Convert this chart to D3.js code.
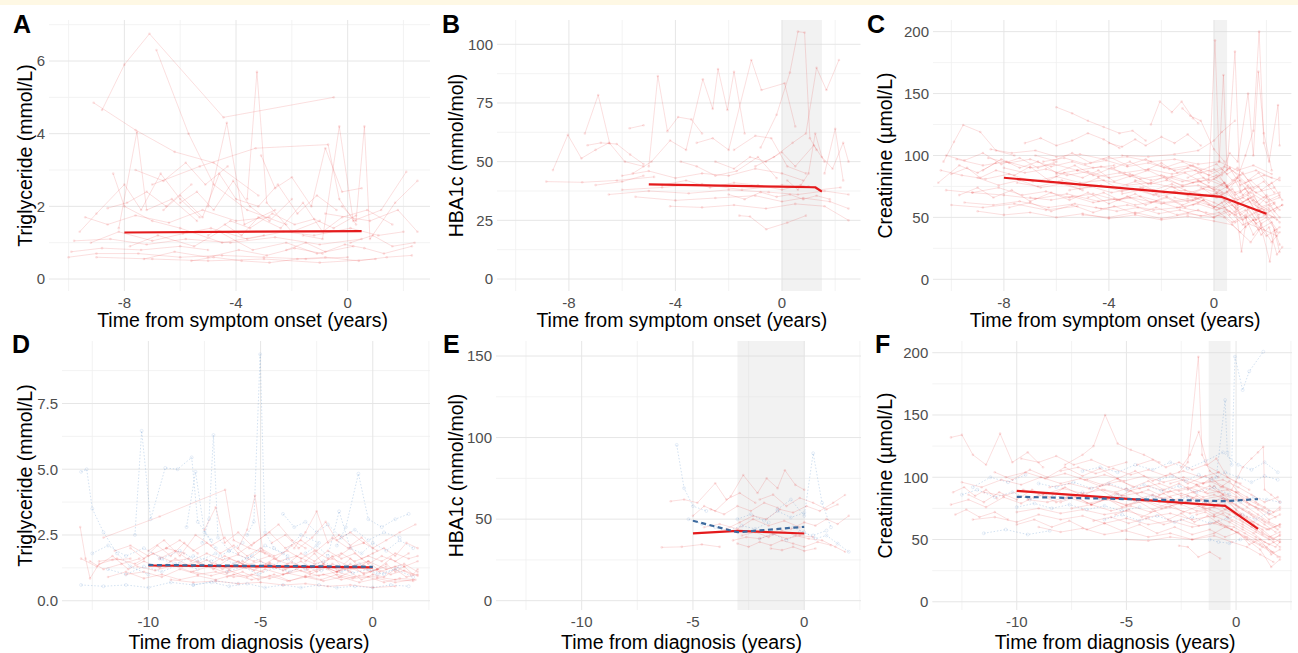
<!DOCTYPE html>
<html><head><meta charset="utf-8">
<script src="https://cdn.jsdelivr.net/npm/d3@7"></script>
<style>body{margin:0;background:#fff;} svg{display:block;font-family:"Liberation Sans",Arial,sans-serif;}</style>
</head><body><svg id="c" width="1298" height="653"></svg>
<script>
// ---------------- text ----------------
const xTitleTop = "Time from symptom onset (years)";
const xTitleBottom = "Time from diagnosis (years)";
const yTitleTG = "Triglyceride (mmol/L)";
const yTitleHB = "HBA1c (mmol/mol)";
const yTitleCR = "Creatinine (µmol/L)";

// ---------------- ticks ----------------
const xTicksTop = [-8, -4, 0];
const xMinorTop = [-10, -6, -2, 2];
const xTicksBottom = [-10, -5, 0];
const xMinorBottom = [-12.5, -7.5, -2.5, 2.5];
const yTicksA = [0, 2, 4, 6];         const yMinorA = [1, 3, 5, 7];
const yTicksB = [0, 25, 50, 75, 100]; const yMinorB = [12.5, 37.5, 62.5, 87.5];
const yTicksC = [0, 50, 100, 150, 200]; const yMinorC = [25, 75, 125, 175];
const yTicksD = [0, 2.5, 5, 7.5];     const yMinorD = [1.25, 3.75, 6.25, 8.75];
const yTicksE = [0, 50, 100, 150];    const yMinorE = [25, 75, 125];
const yTicksF = [0, 50, 100, 150, 200]; const yMinorF = [25, 75, 125, 175];

// ---------------- shaded windows (years) ----------------
const bandB = [0, 1.5];
const bandC = [0, 0.5];
const bandE = [-3, 0];
const bandF = [-1.25, -0.25];

// ---------------- group mean trajectories [t, value] ----------------
const meanA = [[-8, 1.28], [0.5, 1.32]];
const meanB = [[-5, 40.3], [1.25, 39.1], [1.5, 37.2]];
const meanC = [[-8, 82], [0.3, 66.5], [2, 53]];
const meanDcase = [[-10, 1.34], [0, 1.27]];
const meanDctrl = [[-10, 1.36], [0, 1.29]];
const meanEcase = [[-5, 41.3], [-3, 42.8], [0, 41.2]];
const meanEctrl = [[-5, 49], [-3, 42], [0, 45.3]];
const meanFcase = [[-10, 89], [-0.5, 77], [1, 58.5]];
const meanFctrl = [[-10, 84.3], [-0.5, 80.8], [1, 82.5]];

// ---------------- individual trajectories: flat [t1,v1,t2,v2,...] ----------------
const trajA = [
 [-8.8,4.65,-8.0,5.9,-7.1,6.75,-4.45,4.45,-0.5,5.0],
 [-6.85,6.3,-5.7,4.0,-4.8,2.6,-3.6,1.9,-2.2,1.5],
 [-9.1,4.85,-7.6,4.1,-6.2,3.5,-4.8,3.2,-3.2,2.3],
 [-3.6,2.2,-3.25,5.7,-2.9,2.1,-2.0,1.3,-1.0,1.6],
 [-5.0,2.0,-4.33,4.3,-3.7,1.5,-2.6,1.9],
 [-8.2,1.4,-7.55,4.05,-7.2,1.9,-6.3,2.2,-5.4,1.6],
 [-7.0,2.6,-5.3,3.1,-3.3,3.6,-0.7,3.7,-0.3,2.2,0.3,1.5],
 [-1.6,1.2,-0.9,1.1,-0.3,4.2,0.2,1.6,1.2,1.9,2.1,2.95],
 [-0.2,2.0,0.3,1.6,0.6,4.2,0.8,1.1,1.7,2.1,2.5,2.7],
 [-0.8,1.8,0.8,1.6,1.8,1.9,2.5,1.3],
 [-8.4,2.9,-8.0,2.0,-7.0,1.6,-6.0,1.4,-4.5,1.0,-3.0,1.2],
 [-9.6,1.3,-9.0,1.8,-8.0,2.6,-7.4,1.9,-6.7,2.9,-6.0,2.2,-5.3,1.7],
 [-10.0,0.6,-9.0,0.7,-7.5,0.7,-6.0,0.6,-4.5,0.65,-3.0,0.6,-1.5,0.55,0.0,0.6],
 [-9.8,1.05,-8.5,1.1,-7.2,0.95,-5.8,1.1,-4.2,1.0,-2.6,1.15,-1.0,0.95,0.5,1.1],
 [-9.4,1.7,-8.6,1.5,-7.6,1.75,-6.4,1.55,-5.2,1.9,-4.0,1.6,-2.8,1.7],
 [-7.8,0.9,-6.8,1.2,-5.5,0.9,-4.6,1.3,-3.4,0.8,-2.2,1.0,-1.1,0.7,0.2,0.9],
 [-6.6,1.9,-6.0,2.3,-5.2,1.7,-4.6,2.9,-4.0,2.2,-3.2,2.0,-2.5,2.6,-1.8,1.8,-1.1,2.3,-0.4,1.9],
 [-5.6,0.5,-4.8,0.6,-3.8,0.5,-2.8,0.45,-1.8,0.55,-0.8,0.6,0.4,0.5,1.4,0.6,2.3,0.65],
 [-9.9,0.75,-8.8,0.85,-7.4,0.8,-6.0,0.9,-5.0,0.8],
 [-4.4,1.5,-3.8,1.2,-3.2,1.7,-2.4,1.4,-1.6,2.1,-0.9,1.3,-0.2,1.7,0.7,1.9,1.6,1.5],
 [-3.1,3.4,-2.6,2.5,-2.0,2.8,-1.3,2.0,-0.8,3.6,-0.2,2.4,0.5,2.5],
 [-9.2,1.0,-8.2,1.3,-7.0,1.05,-5.9,1.25,-4.9,1.4,-3.6,1.1,-2.3,1.3,-1.2,1.2,0.1,1.4,1.1,1.2,2.0,1.3],
 [-7.3,0.55,-6.2,0.75,-5.0,0.6,-3.9,0.8,-2.9,0.65,-1.9,0.85,-0.9,0.7],
 [-6.0,2.1,-5.4,2.4,-4.8,1.9,-4.1,2.7,-3.5,2.0,-2.8,1.6,-2.0,2.2],
 [0.1,1.0,0.9,1.2,1.6,0.9,2.4,1.0],
 [-8.6,1.95,-7.9,2.1,-7.2,2.4,-6.5,2.0,-5.6,2.6],
 [-2.2,0.8,-1.5,1.0,-0.8,0.75,-0.1,0.95,0.6,0.85,1.3,0.7,2.3,0.9],
 [-5.0,1.2,-4.2,1.6,-3.5,1.4,-2.7,1.8,-1.9,1.5,-1.2,1.65,-0.5,1.4,0.3,1.75],
 [-9.0,0.6,-7.0,0.55,-5.0,0.5,-3.0,0.55,-1.0,0.45,1.0,0.55],
 [-7.6,3.0,-6.6,2.7,-5.8,3.2,-5.1,2.6,-4.3,3.1]
];

const trajB = [
 [-8.85,41.5,-7.5,41.2,-6.2,42,-4.8,43.5],
 [-8.6,46.4,-8.04,61.4,-7.53,51.4,-7.0,55,-6.5,58],
 [-7.4,62,-6.9,78.4,-6.47,57.8,-5.9,50,-5.2,48],
 [-7.3,57,-6.8,58,-6.2,57.5,-5.7,53,-5.2,49],
 [-5.72,64.2,-5.2,65.5],
 [-5.0,48,-4.66,86.5,-4.3,63,-3.9,69,-3.4,68,-3.0,62],
 [-5.6,45,-4.9,50,-4.2,59,-3.6,55,-2.97,85.1,-2.6,72.5,-2.4,89.5,-2.05,72,-1.8,88.3,-1.4,62],
 [-3.2,58,-2.6,60,-2.0,55,-1.15,93.3,-0.77,80.5,0.1,83.4,0.5,65],
 [-0.8,56,-0.2,70,0.3,88,0.6,105.4,0.85,105,1.05,60,1.3,55],
 [-1.0,48,-0.3,52,0.4,58,0.9,62,1.3,90,1.67,80.5,2.14,93.3],
 [-6.5,36,-5.0,37.5,-3.5,36.5,-2.0,38,-0.5,37,0.6,36,1.6,37.5,2.5,36],
 [-5.5,35,-4.0,33.5,-2.5,34.5,-1.0,35.5,0,33,0.8,34.5,1.8,33,2.5,30],
 [-4.2,31,-3.0,30.5,-1.8,31.5,-0.6,30,0.5,32,1.6,31,2.5,25],
 [-1.6,27,-1.2,26.6,-0.59,21.2,0.2,24,0.9,27],
 [-6.0,44,-5.0,46,-4.0,43,-3.0,45,-2.0,44,-1.0,47,0,45,0.8,42],
 [-4.5,40,-3.6,42,-2.7,39,-1.8,41,-0.9,40,0,38,0.7,40,1.4,38,2.2,39],
 [-2.5,50,-1.8,47,-1.2,52,-0.6,50,0.0,54,0.5,48,1.2,57,1.6,50],
 [0.2,42,0.6,38,1.0,45,1.25,62,1.5,52,1.9,47,2.3,58,2.5,50],
 [-3.8,50,-3.2,48,-2.5,44,-1.7,46,-0.9,52,-0.2,43],
 [-6.0,38,-4.5,39,-3.0,40.5,-1.5,38,0,40,1,39.5],
 [-2.0,36,-1.4,34,-0.8,37,-0.2,35,0.3,36,0.8,34,1.3,35.5,1.8,34],
 [-7.0,40,-6.0,41.5,-5.2,44],
 [1.6,45,2.0,64,2.3,42],
 [-1.8,55,-1.0,61,-0.4,60,0.2,48,0.9,45]
];

const trajC = [
 [-10.3,95,-9.9,111,-9.55,124.6,-8.9,119,-8.3,104,-7.6,100],
 [-6.0,139,-5.4,134,-4.8,128,-4.2,123,-3.6,118,-3.1,120,-2.6,112],
 [-2.4,125,-2.06,143.5,-1.6,135,-1.23,143.5,-0.8,130,-0.6,126],
 [-3.5,100,-2.5,99,-1.5,101,-0.6,104,0.0,112,0.3,119,0.8,128],
 [-10.4,88,-9.6,84,-8.7,81,-7.8,85,-6.9,79,-6.0,83,-5.1,78,-4.2,80,-3.3,76,-2.4,78,-1.5,74,-0.6,76,0.2,72,0.8,65,1.4,70,2.0,62,2.5,66],
 [-9.8,97,-8.8,92,-7.9,95,-7.0,90,-6.1,93,-5.2,88,-4.3,91,-3.4,86,-2.5,89,-1.6,85,-0.7,88,0.1,82,0.6,90,1.2,78,1.9,84,2.5,80],
 [-10.2,72,-9.2,70,-8.2,74,-7.3,68,-6.4,71,-5.5,66,-4.6,69,-3.7,64,-2.8,67,-1.9,62,-1.0,65,-0.2,60,0.5,56,1.1,48,1.7,55,2.3,50],
 [-9.5,62,-8.4,60,-7.4,63,-6.3,58,-5.3,61,-4.3,57,-3.3,60,-2.3,56,-1.3,58,-0.3,54,0.4,50,1.0,38,1.3,45,1.9,40,2.4,35],
 [-9.0,55,-8.0,52,-7.0,54,-6.0,50,-5.0,53,-4.0,49,-3.0,52,-2.0,48,-1.0,51,0.0,47,0.7,44,1.4,30,1.8,42],
 [-8.5,105,-7.7,102,-6.8,104,-6.0,99,-5.1,101,-4.2,97,-3.3,99,-2.4,95,-1.5,97,-0.6,93,0.2,95,0.9,88,1.5,92,2.2,85],
 [-8.0,90,-7.2,86,-6.4,89,-5.6,84,-4.8,87,-4.0,82,-3.2,85,-2.4,80,-1.6,83,-0.8,78,0.0,81,0.5,75,1.0,80,1.6,70,2.3,74],
 [-7.5,78,-6.7,75,-5.9,79,-5.1,73,-4.3,76,-3.5,71,-2.7,74,-1.9,70,-1.1,72,-0.3,68,0.3,70,0.9,58,1.5,64,2.1,55,2.6,60],
 [-7.0,66,-6.2,64,-5.4,67,-4.6,62,-3.8,65,-3.0,60,-2.2,63,-1.4,58,-0.6,61,0.1,56,0.7,60,1.2,50,1.8,57,2.4,48],
 [-6.5,95,-5.7,98,-4.9,93,-4.1,96,-3.3,91,-2.5,94,-1.7,89,-0.9,92,-0.1,87,0.4,91,1.0,84,1.6,88,2.2,82],
 [-6.0,85,-5.2,88,-4.4,83,-3.6,86,-2.8,81,-2.0,84,-1.2,79,-0.4,82,0.3,76,0.8,70,1.3,74,1.9,66,2.5,70],
 [-5.5,72,-4.7,75,-3.9,70,-3.1,73,-2.3,68,-1.5,71,-0.7,66,0.1,69,0.6,62,1.1,66,1.7,58,2.3,62],
 [-10.0,60,-8.8,58,-7.6,61,-6.4,56,-5.2,59],
 [-4.5,58,-3.7,55,-2.9,58,-2.1,53,-1.3,56,-0.5,51,0.2,54,0.7,46,1.2,52,1.7,40,2.2,46,2.5,28],
 [-3.0,80,-2.4,77,-1.8,80,-1.2,76,-0.6,79,0.0,74,0.4,78,0.8,68,1.2,73,1.6,62,2.0,68,2.5,56],
 [-0.2,80,0.04,193,0.2,95,0.36,165,0.5,88,0.8,184,1.0,70,1.3,76],
 [0.5,70,0.9,82,1.2,100,1.5,120,1.72,200,1.9,110,2.1,95,2.44,140.8,2.5,108],
 [0.8,62,1.05,22.3,1.3,58,1.6,48],
 [1.3,65,1.7,50,2.13,14.2,2.3,40,2.5,22],
 [-1.2,138,-0.9,132,-0.5,128,0.0,105,0.4,95],
 [0.3,86,0.6,102,0.9,95,1.3,150,1.5,100,1.69,167.7,1.9,118,2.2,88],
 [-9.0,82,-8.2,76,-7.4,80,-6.6,74,-5.8,77,-5.0,72],
 [-10.5,78,-9.7,92,-9.0,86,-8.3,94],
 [-4.0,110,-3.5,107,-3.0,113,-2.6,108,-2.0,115,-1.5,110,-1.0,117,-0.5,108],
 [-7.2,110,-6.6,114,-6.0,108,-5.4,112,-4.8,118,-4.2,113,-3.6,106],
 [-2.0,92,-1.5,88,-1.0,90,-0.5,86,0.0,89,0.3,84,0.6,90,1.0,76,1.4,80,1.8,72,2.2,78,2.6,64],
 [-1.5,66,-1.0,63,-0.5,66,0.0,62,0.4,58,0.8,52,1.2,56,1.6,45,2.0,50,2.4,38],
 [-9.2,70,-8.0,68,-6.8,65,-5.6,69,-4.4,63,-3.2,66,-2.0,61,-0.8,64],
 [-8.6,98,-7.8,94,-7.0,97,-6.2,91,-5.4,95,-4.6,90,-3.8,92],
 [-5.0,52,-4.0,50,-3.0,54,-2.0,49,-1.0,53,0.0,50,0.6,55,1.1,44,1.5,48,2.0,35,2.5,42],
 [-0.5,74,0.1,70,0.5,75,0.9,64,1.3,68,1.7,56,2.1,60,2.5,50],
 [-3.5,69,-2.8,72,-2.1,67,-1.4,70,-0.7,65,0.0,68,0.4,64,0.8,58],
 [-10.0,85,-9.4,90,-8.9,82,-8.3,88,-7.6,84,-7.0,91,-6.3,80,-5.7,86,-5.0,82,-4.4,88,-3.8,79,-3.1,84,-2.5,77,-1.9,83,-1.2,75,-0.6,80,0.0,72,0.4,78,0.9,60,1.4,66,1.9,52,2.4,58],
 [-9.7,68,-9.0,74,-8.4,66,-7.7,72,-7.0,63,-6.2,70,-5.5,64,-4.8,70,-4.0,61,-3.3,67,-2.6,60,-1.8,66,-1.1,58,-0.4,64,0.2,57,0.6,63,1.0,52,1.4,58,1.8,45,2.2,50],
 [-8.8,88,-8.1,97,-7.4,90,-6.7,95,-6.0,86,-5.3,92,-4.6,84,-3.9,90,-3.2,83,-2.5,88,-1.8,81,-1.1,86,-0.5,79,0.1,84,0.5,76,0.9,82,1.3,70,1.7,75,2.1,64,2.5,68],
 [-7.8,58,-7.0,62,-6.2,55,-5.4,60,-4.6,54,-3.8,59,-3.0,53,-2.2,58,-1.4,52,-0.6,56,0.0,50,0.4,55,0.8,46,1.2,50,1.5,36,1.8,44,2.2,30,2.5,38],
 [-6.8,100,-6.1,96,-5.4,102,-4.7,94,-4.0,99,-3.3,92,-2.6,97,-1.9,90,-1.2,95,-0.5,88,0.1,93,0.5,85,0.9,90,1.3,80,1.7,86,2.1,76,2.5,82],
 [-5.8,80,-5.1,76,-4.4,82,-3.7,74,-3.0,79,-2.3,72,-1.6,77,-0.9,70,-0.2,75,0.3,68,0.7,73,1.1,62,1.5,67,1.9,56,2.3,61],
 [-4.8,66,-4.2,70,-3.6,64,-3.0,69,-2.4,62,-1.8,67,-1.2,60,-0.6,65,0.0,58,0.4,63,0.8,54,1.2,59,1.6,48,2.0,52,2.4,40],
 [-1.0,82,-0.6,86,-0.2,78,0.2,84,0.5,74,0.8,80,1.1,68,1.4,74,1.7,60,2.0,66,2.3,55,2.6,60],
 [-0.8,60,-0.4,64,0.0,58,0.3,62,0.6,52,0.9,57,1.2,42,1.5,48,1.8,36,2.1,42,2.4,20,2.6,26],
 [-10.2,100,-9.5,96,-8.8,102,-8.1,93,-7.4,98,-6.7,90,-6.0,95],
 [-3.8,90,-3.2,95,-2.6,88,-2.0,94,-1.4,86,-0.8,92,-0.2,84,0.3,89,0.7,80,1.1,86,1.5,74,1.9,79,2.3,70],
 [-2.8,74,-2.2,69,-1.6,75,-1.0,68,-0.4,73,0.1,66,0.5,71,0.9,60,1.3,65,1.7,52,2.1,57,2.5,46]
];

const trajDcase = [
 [-12.0,2.4,-9.5,3.2,-6.58,4.22,-6.2,2.3,-5.5,2.0,-4.8,1.8],
 [-6.0,2.0,-5.6,2.7,-5.25,4.0,-4.9,1.9,-4.3,1.6,-3.6,2.1],
 [-13.04,2.8,-12.8,1.6,-12.6,0.85,-12.2,1.4,-11.6,1.55,-10.8,1.6],
 [-12.2,1.5,-11.4,1.6,-10.6,1.4,-9.8,1.8,-9.0,1.5,-8.2,1.6,-7.4,1.3,-6.6,1.7,-5.8,1.4,-5.0,1.9,-4.2,1.5,-3.4,1.7,-2.6,1.4,-1.8,1.6,-1.0,1.3,-0.2,1.5,0.6,1.2,1.4,1.4,2.0,1.1],
 [-11.0,1.0,-10.2,1.1,-9.4,0.9,-8.6,1.2,-7.8,1.0,-7.0,1.1,-6.2,0.9,-5.4,1.0,-4.6,0.85,-3.8,1.05,-3.0,0.9,-2.2,1.0,-1.4,0.8,-0.6,0.95,0.2,0.9,1.0,0.8,1.8,0.75],
 [-10.0,1.9,-9.3,2.3,-8.6,1.7,-7.9,2.5,-7.2,2.1,-6.6,2.4,-6.0,1.8,-5.3,2.2,-4.6,2.6,-3.9,2.0,-3.2,2.3,-2.5,1.9,-1.8,2.4,-1.1,2.0,-0.4,2.2],
 [-9.0,0.8,-8.0,0.7,-7.0,0.75,-6.0,0.65,-5.0,0.7,-4.0,0.6,-3.0,0.65,-2.0,0.55,-1.0,0.6,0.0,0.5,1.0,0.55],
 [-8.5,1.3,-7.8,1.5,-7.1,1.2,-6.4,1.6,-5.7,1.35,-5.0,1.5,-4.3,1.25,-3.6,1.45,-2.9,1.2,-2.2,1.4,-1.5,1.15,-0.8,1.35,-0.1,1.1,0.6,1.3],
 [-7.5,2.7,-7.0,3.55,-6.6,2.2,-6.0,2.6,-5.4,2.1,-4.8,2.5,-4.2,2.9,-3.6,2.3,-3.0,2.0],
 [-4.0,1.0,-3.4,1.2,-2.8,1.0,-2.2,1.3,-1.6,1.1,-1.0,1.4,-0.4,1.0,0.2,1.2,0.8,1.6,1.4,1.3,2.0,1.5],
 [-3.5,2.0,-3.0,2.6,-2.5,3.4,-2.0,2.2,-1.5,2.5,-1.0,2.1,-0.5,2.4,0.0,2.0,0.6,2.3,1.2,2.6,1.9,2.9],
 [-10.5,1.3,-9.7,1.15,-8.9,1.35,-8.1,1.1,-7.3,1.3,-6.5,1.05,-5.7,1.25,-4.9,1.1],
 [-6.5,0.9,-5.8,1.1,-5.1,0.8,-4.4,1.0,-3.7,0.75,-3.0,0.95,-2.3,0.8,-1.6,1.0,-0.9,0.85,-0.2,0.9,0.5,0.7,1.2,0.85,1.9,0.8],
 [-9.5,1.6,-8.8,1.9,-8.1,1.5,-7.4,1.8,-6.7,1.55,-6.0,1.75,-5.3,1.5,-4.6,1.7],
 [-5.0,1.3,-4.4,1.6,-3.8,1.4,-3.2,1.8,-2.6,1.5,-2.0,1.9,-1.4,1.6,-0.8,1.8,-0.2,1.4,0.4,1.7,1.0,1.5,1.6,1.8],
 [-2.0,1.2,-1.5,0.9,-1.0,1.1,-0.5,0.8,0.0,1.0,0.5,0.9,1.0,1.2,1.5,0.9,2.0,1.0],
 [-11.5,1.9,-10.8,2.1,-10.0,1.7,-9.2,2.0,-8.4,1.8],
 [-4.5,2.2,-3.9,2.5,-3.3,2.0,-2.7,2.4,-2.1,3.0,-1.6,2.3,-1.0,2.6,-0.4,2.2,0.2,1.9],
 [-8.0,1.1,-7.2,0.95,-6.4,1.15,-5.6,0.9,-4.8,1.2,-4.0,1.0,-3.2,1.15,-2.4,0.95,-1.6,1.1,-0.8,0.9],
 [-12.6,1.5,-12.0,1.2,-11.2,1.4,-10.4,1.6],
 [-1.5,1.7,-1.0,2.0,-0.5,1.6,0.0,1.8,0.5,2.0,1.0,1.7,1.5,2.2,2.0,2.0],
 [-13.0,1.6,-12.3,1.3,-11.6,1.7,-10.9,1.2,-10.2,1.5,-9.5,1.25,-8.8,1.6,-8.1,1.3,-7.4,1.55,-6.7,1.2,-6.0,1.5,-5.3,1.15,-4.6,1.45,-3.9,1.2,-3.2,1.5,-2.5,1.1,-1.8,1.4,-1.1,1.15,-0.4,1.35,0.3,1.1,1.0,1.3,1.7,1.0],
 [-11.8,0.9,-11.0,1.1,-10.2,0.85,-9.4,1.0,-8.6,0.8,-7.8,0.95,-7.0,0.8,-6.2,1.0,-5.4,0.8,-4.6,0.95,-3.8,0.75,-3.0,0.9,-2.2,0.75,-1.4,0.9,-0.6,0.7,0.2,0.85,1.0,0.7,1.8,0.8],
 [-9.2,2.0,-8.6,2.3,-8.0,1.9,-7.4,2.2,-6.8,1.8,-6.2,2.1,-5.6,1.7,-5.0,2.0,-4.4,1.7,-3.8,1.9,-3.2,1.6,-2.6,1.9,-2.0,1.6,-1.4,1.8,-0.8,1.5,-0.2,1.7,0.4,1.5,1.0,1.8,1.6,1.6,2.0,1.7],
 [-7.0,1.4,-6.4,1.2,-5.8,1.5,-5.2,1.25,-4.6,1.4,-4.0,1.15,-3.4,1.35,-2.8,1.1,-2.2,1.3,-1.6,1.1,-1.0,1.25,-0.4,1.05,0.2,1.2,0.8,1.0,1.4,1.15,2.0,0.95],
 [-3.0,1.5,-2.6,1.8,-2.2,1.4,-1.8,1.7,-1.4,1.3,-1.0,1.6,-0.6,1.3,-0.2,1.5,0.2,1.2,0.6,1.4,1.0,1.1,1.4,1.3,1.8,1.0,2.0,1.2],
 [-10.8,2.0,-10.2,1.6,-9.6,2.1,-9.0,1.7,-8.4,2.2,-7.8,1.8]
];
const trajDctrl = [
 [-5.6,2.5,-5.3,3.0,-5.02,9.37,-4.8,2.6,-4.4,2.0,-3.8,1.7],
 [-7.6,2.2,-7.3,3.1,-7.1,6.3,-6.9,2.4,-6.4,1.9,-5.8,2.2],
 [-10.6,2.5,-10.3,6.46,-9.9,3.1,-9.25,5.05,-8.7,5.0,-8.07,5.45,-7.8,3.0,-7.2,2.3],
 [-13.0,4.9,-12.75,5.0,-12.5,3.5,-12.0,2.6,-11.4,1.8,-10.8,1.3,-10.0,1.0],
 [-1.6,2.1,-1.2,2.8,-0.64,4.83,-0.2,3.1,0.4,2.8,1.0,3.1,1.6,3.3],
 [-13.0,0.6,-12.0,0.55,-11.0,0.6,-10.0,0.5,-9.0,0.7,-8.0,0.6,-7.0,0.75,-6.0,0.65],
 [-9.5,1.6,-8.8,1.4,-8.0,1.7,-7.2,1.5,-6.4,1.9,-5.6,1.6,-4.8,2.1,-4.0,1.8,-3.2,2.5,-2.4,2.2],
 [-4.0,3.3,-3.5,2.8,-3.0,3.0,-2.5,2.6,-2.0,2.9,-1.4,2.4,-0.8,2.7,-0.2,2.3,0.5,2.6,1.2,2.4],
 [-6.5,1.1,-5.8,1.3,-5.1,1.0,-4.4,1.25,-3.7,1.1,-3.0,1.35,-2.3,1.15,-1.6,1.3,-0.9,1.05,-0.2,1.2,0.5,1.0,1.2,1.3],
 [-11.8,1.2,-11.0,1.0,-10.2,1.3,-9.4,1.1,-8.6,1.4,-7.8,1.2],
 [-8.3,2.8,-7.9,4.9,-7.5,2.6,-7.0,2.0],
 [-3.0,1.8,-2.5,2.1,-2.0,1.7,-1.5,3.4,-1.0,2.0,-0.5,1.8,0.0,2.2,0.6,1.9,1.2,2.3,1.8,2.0],
 [-12.5,1.8,-11.8,2.1,-11.0,1.7,-10.2,2.0,-9.4,1.6,-8.6,1.9,-7.8,1.5,-7.0,1.8,-6.2,1.4,-5.4,1.7,-4.6,1.3,-3.8,1.6,-3.0,1.2,-2.2,1.5,-1.4,1.1,-0.6,1.4,0.2,1.0,1.0,1.2,1.8,0.9],
 [-8.0,0.6,-7.2,0.7,-6.4,0.55,-5.6,0.65,-4.8,0.5,-4.0,0.6,-3.2,0.5,-2.4,0.6,-1.6,0.5,-0.8,0.55,0.0,0.5,0.8,0.6,1.6,0.55]
];

const trajEcase = [
 [-6.4,32.7,-5.5,33,-4.6,34.5,-3.8,33],
 [-6.0,61,-5.4,62,-4.8,60,-4.0,72,-3.5,62,-2.9,66,-2.2,60],
 [-5.0,52,-4.5,58,-4.0,55,-3.3,64,-2.74,77,-2.1,66,-1.69,75,-1.2,69,-0.87,80,-0.4,71,0.0,68],
 [-3.5,44,-2.9,48,-2.3,52,-1.7,50,-1.1,56,-0.5,54,0.1,58,0.7,55,1.3,60,1.83,64.8],
 [-3.0,35,-2.5,33,-2.0,36,-1.5,34,-1.0,37,-0.5,35,0.0,33,0.6,36,1.2,34],
 [-2.8,40,-2.2,42,-1.6,39,-1.0,43,-0.4,40,0.2,38,0.8,37,1.4,33,1.83,30],
 [-4.5,45,-3.8,47,-3.0,44,-2.3,50,-1.6,46,-0.9,49,-0.2,45],
 [-2.0,62,-1.4,65,-0.8,58,-0.2,63,0.4,60,1.0,56,1.5,59],
 [-3.2,37,-2.6,39,-2.0,38,-1.4,41,-0.8,38,-0.2,40,0.4,39],
 [-1.5,32,-1.0,31,-0.5,33,0.0,30.5,0.5,32],
 [-4.2,56,-3.6,53,-3.0,58,-2.4,55,-1.8,60,-1.2,57],
 [-0.6,44,0.0,48,0.5,46,1.0,50,1.5,47,2.0,52]
];
const trajEctrl = [
 [-5.73,95.5,-5.4,69,-5.0,58,-4.4,55],
 [-5.2,50,-4.6,47,-4.0,45,-3.4,43,-2.8,46,-2.2,44,-1.6,48],
 [-1.2,56,-0.6,62,0.0,52,0.4,90.4,0.8,60,1.2,45],
 [-0.5,45,0.0,42,0.5,38,1.0,40,1.5,35,2.0,30],
 [-3.0,50,-2.4,53,-1.8,49,-1.2,55,-0.6,51,0.0,54],
 [-2.0,38,-1.4,41,-0.8,37,-0.2,42,0.4,40,1.0,43]
];

const trajFcase = [
 [-13.0,132,-12.5,134,-12.0,118,-11.4,110,-10.76,135,-10.2,112,-9.5,120,-8.8,108],
 [-7.8,110,-7.0,118,-6.5,125,-5.97,150,-5.4,127,-4.8,122,-4.2,118,-3.5,112],
 [-2.6,104,-2.2,112,-1.72,196.8,-1.55,118,-1.2,105,-0.8,100],
 [-2.5,108,-2.1,118,-1.7,136.5,-1.3,110,-0.9,115,-0.4,100,0.2,95],
 [-13.0,78,-12.2,82,-11.4,76,-10.6,84,-9.8,79,-9.0,86,-8.2,80,-7.4,85,-6.6,78,-5.8,83,-5.0,77,-4.2,81,-3.4,75,-2.6,79,-1.8,73,-1.0,76,-0.3,70,0.3,64,0.9,58,1.5,52,2.0,56],
 [-12.5,96,-11.6,92,-10.7,98,-9.8,94,-8.9,100,-8.0,95,-7.1,99,-6.2,93,-5.3,97,-4.4,91,-3.5,95,-2.6,89,-1.7,93,-0.8,88,0.0,84,0.6,78,1.2,74,1.8,68],
 [-12.0,66,-11.0,68,-10.0,64,-9.0,70,-8.0,66,-7.0,69,-6.0,63,-5.0,67,-4.0,62,-3.0,65,-2.0,60,-1.0,63,-0.2,58,0.5,50,1.1,42,1.6,28,2.0,34],
 [-11.5,88,-10.6,85,-9.7,90,-8.8,86,-7.9,91,-7.0,87,-6.1,90,-5.2,85,-4.3,88,-3.4,83,-2.5,87,-1.6,82,-0.7,85,0.0,78,0.6,72,1.2,66,1.8,60],
 [-10.5,100,-9.6,104,-8.7,99,-7.8,103,-6.9,98,-6.0,102,-5.1,97,-4.2,101,-3.3,96,-2.4,100,-1.5,95,-0.6,98,0.1,92,0.7,86,1.3,80,1.9,84],
 [-10.0,72,-9.0,75,-8.0,71,-7.0,74,-6.0,70,-5.0,73,-4.0,68,-3.0,71,-2.0,66,-1.0,69,-0.3,64,0.3,58,0.9,52,1.5,46,2.0,50],
 [-9.5,82,-8.6,80,-7.7,84,-6.8,79,-5.9,82,-5.0,78,-4.1,81,-3.2,76,-2.3,80,-1.4,75,-0.5,78,0.2,70,0.8,64,1.4,58,2.0,62],
 [-9.0,60,-8.0,56,-7.0,59,-6.0,54,-5.0,57,-4.0,52,-3.0,55,-2.0,50,-1.0,53,-0.2,48,0.5,44,1.1,38,1.7,32],
 [-8.5,92,-7.6,95,-6.7,91,-5.8,94,-4.9,89,-4.0,93,-3.1,88,-2.2,92,-1.3,87,-0.4,90,0.3,82,0.9,76,1.5,70,2.0,74],
 [-8.0,105,-7.2,108,-6.4,103,-5.6,107,-4.8,102,-4.0,106,-3.2,101,-2.4,105,-1.6,100,-0.8,104,0.0,96,0.6,90],
 [-7.5,75,-6.6,78,-5.7,73,-4.8,77,-3.9,72,-3.0,76,-2.1,71,-1.2,74,-0.4,68,0.3,62,0.9,56,1.5,50,2.0,53],
 [-7.0,86,-6.2,83,-5.4,87,-4.6,82,-3.8,86,-3.0,81,-2.2,85,-1.4,80,-0.6,83,0.1,76,0.7,70,1.3,64,1.9,58],
 [-6.5,65,-5.7,68,-4.9,63,-4.1,67,-3.3,62,-2.5,66,-1.7,61,-0.9,64,-0.2,58,0.5,52,1.1,46,1.7,40],
 [-2.6,45,-2.2,44,-1.72,36,-1.2,40,-0.73,34.8],
 [-0.2,90,0.3,108,0.7,115,1.0,120,1.24,124.5,1.3,90,1.6,86,2.0,80],
 [-5.0,50,-4.0,49,-3.0,52,-2.0,50,-1.0,55,-0.5,60],
 [-12.8,70,-12.3,74,-11.7,68,-11.0,72,-10.4,66],
 [-4.5,110,-3.8,114,-3.2,108,-2.6,112,-2.0,106,-1.4,110,-0.8,104],
 [-6.0,90,-5.5,88,-5.0,91,-4.5,87,-4.0,90,-3.5,86,-3.0,89,-2.5,85,-2.0,88,-1.5,84,-1.0,86,-0.5,82,0.0,74,0.5,68,1.0,62,1.5,58,2.0,62],
 [-1.8,70,-1.4,72,-1.0,68,-0.6,71,-0.2,65,0.3,60,0.8,55,1.3,48,1.8,44,2.0,48],
 [-3.0,95,-2.4,98,-1.8,94,-1.2,97,-0.6,92,0.0,88,0.5,82,1.0,78,1.5,73],
 [-12.2,86,-11.5,80,-10.8,88,-10.0,82,-9.3,90,-8.5,84,-7.8,92,-7.0,85,-6.3,91,-5.5,83,-4.8,89,-4.0,81,-3.3,87,-2.5,79,-1.8,85,-1.0,77,-0.4,82,0.2,70,0.7,64,1.2,56,1.7,50,2.0,54],
 [-11.0,104,-10.2,98,-9.4,106,-8.6,100,-7.8,108,-7.0,101,-6.2,107,-5.4,99,-4.6,105,-3.8,97,-3.0,103,-2.2,95,-1.4,101,-0.6,93,0.0,88,0.5,80,1.0,74,1.5,66,2.0,70],
 [-10.0,62,-9.2,66,-8.4,60,-7.6,65,-6.8,58,-6.0,63,-5.2,57,-4.4,62,-3.6,55,-2.8,60,-2.0,54,-1.2,58,-0.5,52,0.1,56,0.6,46,1.1,50,1.6,38,2.0,42],
 [-8.0,80,-7.3,84,-6.6,78,-5.9,83,-5.2,76,-4.5,81,-3.8,74,-3.1,79,-2.4,72,-1.7,77,-1.0,70,-0.4,75,0.2,66,0.7,60,1.2,54,1.7,48,2.0,44],
 [-6.8,98,-6.1,94,-5.4,99,-4.7,92,-4.0,97,-3.3,90,-2.6,95,-1.9,88,-1.2,93,-0.6,86,0.0,82,0.5,76,1.0,70,1.5,64,2.0,60],
 [-5.5,70,-4.9,74,-4.3,68,-3.7,73,-3.1,66,-2.5,71,-1.9,64,-1.3,69,-0.7,62,-0.1,60,0.4,55,0.9,50,1.4,44,1.9,36],
 [-3.5,80,-3.0,84,-2.5,78,-2.0,83,-1.5,76,-1.0,81,-0.5,74,0.0,70,0.4,66,0.8,62,1.2,58,1.6,52,2.0,48],
 [-1.5,95,-1.1,100,-0.7,92,-0.3,97,0.1,88,0.5,84,0.9,80,1.3,76,1.7,72,2.0,76],
 [-12.9,88,-12.4,92,-11.9,85,-11.4,90,-10.9,83],
 [-9.8,115,-9.0,112,-8.2,117,-7.4,110,-6.6,114,-5.8,108,-5.0,112],
 [-0.8,65,-0.4,60,0.0,56,0.4,52,0.8,48,1.2,44,1.6,40,2.0,36],
 [-2.2,90,-1.8,94,-1.4,88,-1.0,93,-0.6,86,-0.2,80,0.3,74,0.8,68,1.3,62,1.8,56]
];
const trajFctrl = [
 [-0.9,100,-0.5,162,-0.4,120,-0.2,110,-0.05,196.8,0.3,170,0.6,185,1.24,200.8],
 [-12.5,86,-11.8,90,-11.0,84,-10.2,88,-9.4,82,-8.6,87,-7.8,83,-7.0,88,-6.2,82,-5.4,86,-4.6,81,-3.8,85,-3.0,80,-2.2,84,-1.4,79,-0.6,83,0.2,80,0.8,84,1.4,82,2.0,80],
 [-11.5,55,-10.5,58,-9.5,54,-8.5,57],
 [-9.0,95,-8.2,92,-7.4,96,-6.6,91,-5.8,95,-5.0,90,-4.2,94,-3.4,89,-2.6,93,-1.8,88,-1.0,92,-0.3,86],
 [-7.0,105,-6.2,108,-5.4,104,-4.6,110,-3.8,106,-3.0,112,-2.2,107,-1.4,113,-0.6,120,0.1,110,0.7,106,1.3,112,1.9,104],
 [-6.0,66,-5.2,70,-4.4,65,-3.6,69,-2.8,64,-2.0,68,-1.2,63,-0.4,67,0.3,70,0.9,66,1.5,72],
 [-1.2,50,-0.8,48,-0.3,47,0.2,50],
 [-10.0,76,-9.2,79,-8.4,75,-7.6,78,-6.8,74,-6.0,77,-5.2,73,-4.4,76],
 [-3.5,98,-2.9,101,-2.3,97,-1.7,102,-1.1,98,-0.5,104,0.1,100,0.7,96,1.3,101,1.9,98],
 [-12.0,92,-11.2,100,-10.4,96,-9.6,102]
];

// ---------------- drawing ----------------
const RED = "#e41a1c", BLUE = "#4a86c8", MEANBLUE = "#3d6a9e";
const svg = d3.select("#c");
svg.append("rect").attr("x",0).attr("y",0).attr("width",1298).attr("height",5).attr("fill","#fef8e4");

const fmtInt = d => String(d);
const fmt1 = d3.format(".1f");

const panels = [
 {letter:"A", lx:13, ly:33, box:[49,430,20,291], xd:[-10.7,2.95], yd:[-0.33,7.129], xt:xTicksTop, xm:xMinorTop, yt:yTicksA, ym:yMinorA, yf:fmtInt, xtitle:xTitleTop, ytitle:yTitleTG, ytx:32, band:null, cases:trajA, ctrls:[], mCase:meanA, mCtrl:null},
 {letter:"B", lx:442, ly:33, box:[497,860.5,20,291], xd:[-10.7,2.95], yd:[-5.11,110.35], xt:xTicksTop, xm:xMinorTop, yt:yTicksB, ym:yMinorB, yf:fmtInt, xtitle:xTitleTop, ytitle:yTitleHB, ytx:463, band:bandB, cases:trajB, ctrls:[], mCase:meanB, mCtrl:null},
 {letter:"C", lx:867, ly:33, box:[933,1291.4,20,291], xd:[-10.7,2.95], yd:[-9.45,209.4], xt:xTicksTop, xm:xMinorTop, yt:yTicksC, ym:yMinorC, yf:fmtInt, xtitle:xTitleTop, ytitle:yTitleCR, ytx:892, band:bandC, cases:trajC, ctrls:[], mCase:meanC, mCtrl:null},
 {letter:"D", lx:12, ly:353, box:[62,430,341,610], xd:[-13.85,2.55], yd:[-0.352,9.875], xt:xTicksBottom, xm:xMinorBottom, yt:yTicksD, ym:yMinorD, yf:fmt1, xtitle:xTitleBottom, ytitle:yTitleTG, ytx:32, band:null, cases:trajDcase, ctrls:trajDctrl, mCase:meanDcase, mCtrl:meanDctrl},
 {letter:"E", lx:443, ly:353, box:[496,861,341,610], xd:[-13.85,2.55], yd:[-5.7,159.2], xt:xTicksBottom, xm:xMinorBottom, yt:yTicksE, ym:yMinorE, yf:fmtInt, xtitle:xTitleBottom, ytitle:yTitleHB, ytx:463, band:bandE, cases:trajEcase, ctrls:trajEctrl, mCase:meanEcase, mCtrl:meanEctrl},
 {letter:"F", lx:875, ly:353, box:[932.3,1292,341,610], xd:[-13.85,2.55], yd:[-6.6,209.4], xt:xTicksBottom, xm:xMinorBottom, yt:yTicksF, ym:yMinorF, yf:fmtInt, xtitle:xTitleBottom, ytitle:yTitleCR, ytx:892, band:bandF, cases:trajFcase, ctrls:trajFctrl, mCase:meanFcase, mCtrl:meanFctrl}
];

const toPairs = arr => d3.range(0, arr.length, 2).map(i => [arr[i], arr[i+1]]);

panels.forEach((p, pi) => {
  const [L, R, T, B] = p.box;
  const x = d3.scaleLinear().domain(p.xd).range([L, R]);
  const y = d3.scaleLinear().domain(p.yd).range([B, T]);
  const g = svg.append("g");
  const clipId = "clip" + pi;
  g.append("clipPath").attr("id", clipId).append("rect")
    .attr("x", L).attr("y", T).attr("width", R - L).attr("height", B - T);

  // grid
  const grid = g.append("g");
  p.ym.forEach(v => grid.append("line").attr("x1", L).attr("x2", R).attr("y1", y(v)).attr("y2", y(v))
      .attr("stroke", "#f0f0f0").attr("stroke-width", 0.8));
  p.xm.forEach(v => grid.append("line").attr("y1", T).attr("y2", B).attr("x1", x(v)).attr("x2", x(v))
      .attr("stroke", "#f0f0f0").attr("stroke-width", 0.8));
  p.yt.forEach(v => grid.append("line").attr("x1", L).attr("x2", R).attr("y1", y(v)).attr("y2", y(v))
      .attr("stroke", "#e6e6e6").attr("stroke-width", 1));
  p.xt.forEach(v => grid.append("line").attr("y1", T).attr("y2", B).attr("x1", x(v)).attr("x2", x(v))
      .attr("stroke", "#e6e6e6").attr("stroke-width", 1));

  // band
  if (p.band) {
    g.append("rect").attr("x", x(p.band[0])).attr("width", x(p.band[1]) - x(p.band[0]))
      .attr("y", T).attr("height", B - T).attr("fill", "#d9d9d9").attr("opacity", 0.35);
  }

  const plot = g.append("g").attr("clip-path", `url(#${clipId})`);
  const line = d3.line().x(d => x(d[0])).y(d => y(d[1]));

  // control trajectories (blue dotted)
  p.ctrls.forEach(arr => {
    const pts = toPairs(arr);
    plot.append("path").attr("d", line(pts)).attr("fill", "none")
      .attr("stroke", BLUE).attr("stroke-opacity", 0.28).attr("stroke-width", 0.9)
      .attr("stroke-dasharray", "1.5,1.8");
    plot.selectAll(null).data(pts).enter().append("circle")
      .attr("cx", d => x(d[0])).attr("cy", d => y(d[1])).attr("r", 1.5)
      .attr("fill", "none").attr("stroke", BLUE).attr("stroke-opacity", 0.22).attr("stroke-width", 0.6);
  });
  // case trajectories (red)
  p.cases.forEach(arr => {
    const pts = toPairs(arr);
    plot.append("path").attr("d", line(pts)).attr("fill", "none")
      .attr("stroke", RED).attr("stroke-opacity", 0.18).attr("stroke-width", 0.8);
    plot.selectAll(null).data(pts).enter().append("circle")
      .attr("cx", d => x(d[0])).attr("cy", d => y(d[1])).attr("r", 1.3)
      .attr("fill", RED).attr("fill-opacity", 0.12);
  });

  // means
  plot.append("path").attr("d", line(p.mCase)).attr("fill", "none")
    .attr("stroke", RED).attr("stroke-width", 2.2).attr("stroke-linejoin", "round");
  if (p.mCtrl) {
    plot.append("path").attr("d", line(p.mCtrl)).attr("fill", "none")
      .attr("stroke", MEANBLUE).attr("stroke-width", 2.2).attr("stroke-dasharray", "5,3.5");
  }

  // tick labels
  const top = T < 100;
  const tickY = top ? 308 : 627;
  p.xt.forEach(v => g.append("text").attr("x", x(v)).attr("y", tickY).attr("text-anchor", "middle")
    .attr("font-size", "15px").attr("fill", "#4d4d4d").text(fmtInt(v)));
  p.yt.forEach(v => g.append("text").attr("x", L - 4).attr("y", y(v) + 5.3).attr("text-anchor", "end")
    .attr("font-size", "15px").attr("fill", "#4d4d4d").text(p.yf(v)));

  // titles
  g.append("text").attr("x", (L + R) / 2 + 3).attr("y", top ? 326.5 : 648.5)
    .attr("text-anchor", "middle").attr("font-size", "19.5px").attr("fill", "#000").text(p.xtitle);
  g.append("text").attr("transform", `translate(${p.ytx},${(T + B) / 2}) rotate(-90)`)
    .attr("text-anchor", "middle").attr("font-size", "19.5px").attr("fill", "#000").text(p.ytitle);

  // panel letter
  g.append("text").attr("x", p.lx).attr("y", p.ly).attr("font-size", "25px").attr("font-weight", "bold")
    .attr("fill", "#000").text(p.letter);
});
</script></body></html>
